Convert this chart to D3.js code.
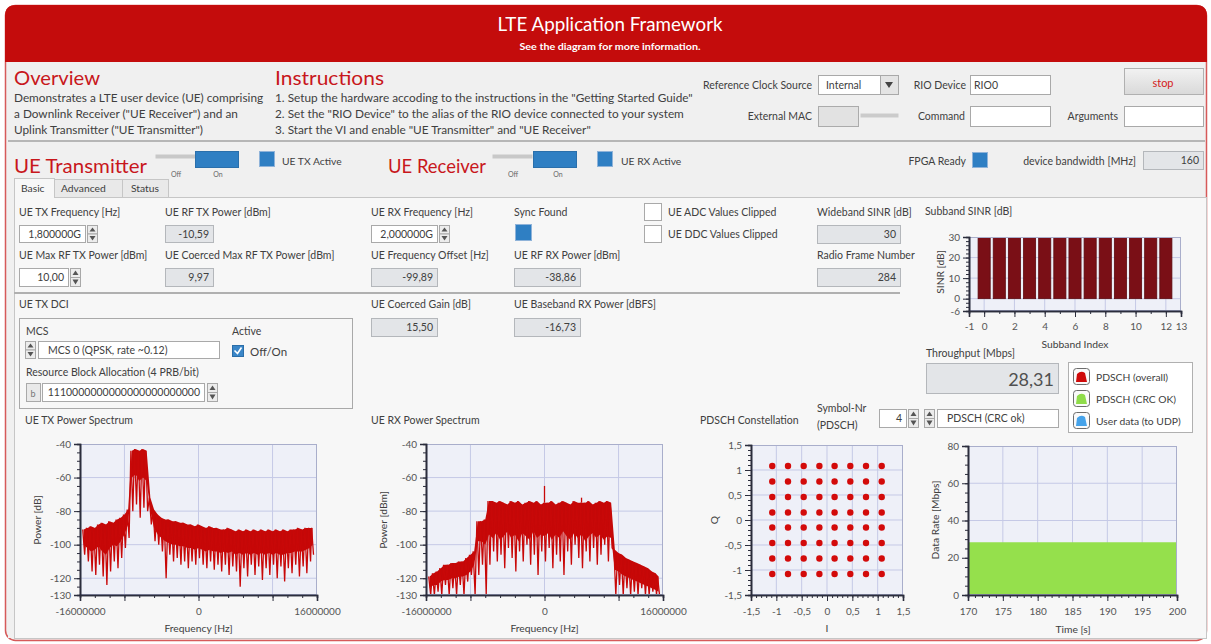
<!DOCTYPE html>
<html><head><meta charset="utf-8">
<script src="https://cdn.jsdelivr.net/npm/d3@7/dist/d3.min.js"></script>
<style>
body{margin:0;background:#fff;}
svg{display:block;font-family:Lato,"Open Sans",sans-serif;}
</style></head><body>
<svg id="c" width="1211" height="644"></svg>
<script>
// ---------------- DATA ----------------
const txFreqMHz = [-15.5,-15,-14.5,-14,-13.5,-13,-12.5,-12,-11.5,-11,-10.5,-10,-9.5,-9,-8.5,-8,-7.5,-7,-6.5,-6,-5.5,-5,-4.5,-4,-3.5,-3,-2.5,-2,-1.5,-1,-0.5,0,0.5,1,1.5,2,2.5,3,3.5,4,4.5,5,5.5,6,6.5,7,7.5,8,8.5,9,9.5,10,10.5,11,11.5,12,12.5,13,13.5,14,14.5,15,15.4];
const txPowerHi = [-91,-90,-89,-90,-88,-87,-88,-86,-87,-85,-84,-82,-79,-44,-43,-44,-43,-44,-72,-79,-82,-84,-85,-85,-86,-86,-87,-87,-88,-88,-89,-88,-89,-90,-89,-90,-90,-91,-91,-90,-91,-92,-91,-92,-91,-92,-91,-92,-91,-92,-91,-92,-91,-92,-91,-92,-91,-91,-90,-91,-90,-90,-90];
const txSolidLo = [-100,-102,-104,-103,-101,-104,-106,-102,-100,-101,-98,-94,-88,-60,-58,-62,-60,-62,-80,-90,-94,-96,-98,-99,-100,-100,-101,-101,-102,-102,-103,-102,-103,-104,-103,-104,-104,-105,-104,-105,-104,-106,-105,-106,-105,-106,-105,-106,-105,-106,-105,-106,-105,-106,-106,-105,-105,-104,-104,-104,-103,-102,-100];
const txPowerLo = [-106,-110,-116,-118,-112,-119,-124,-116,-110,-114,-108,-102,-96,-80,-76,-84,-78,-80,-88,-98,-100,-104,-120,-106,-110,-108,-112,-110,-114,-110,-112,-108,-112,-114,-110,-115,-112,-116,-112,-118,-113,-116,-125,-114,-119,-112,-118,-113,-121,-114,-118,-112,-120,-113,-122,-114,-117,-112,-119,-113,-117,-110,-106];

const rxFreqMHz = [-15.5,-15,-14.5,-14,-13.5,-13,-12.5,-12,-11.5,-11,-10.5,-10,-9.5,-9,-8.5,-8,-7.5,-7,-6.5,-6,-5.5,-5,-4.5,-4,-3.5,-3,-2.5,-2,-1.5,-1,-0.5,0,0.5,1,1.5,2,2.5,3,3.5,4,4.5,5,5.5,6,6.5,7,7.5,8,8.5,9,9.5,10,10.5,11,11.5,12,12.5,13,13.5,14,14.5,15,15.4];
const rxPowerHi = [-119,-117,-116,-114,-112,-112,-111,-111,-110,-110,-108,-106,-104,-86,-86,-85,-74,-74,-75,-74,-75,-76,-74,-75,-74,-76,-75,-74,-75,-74,-76,-75,-75,-74,-76,-75,-74,-75,-76,-74,-75,-75,-75,-74,-76,-75,-74,-75,-74,-75,-103,-105,-106,-108,-109,-110,-111,-112,-113,-114,-116,-117,-119];
const rxSolidLo = [-126,-124,-124,-122,-121,-121,-120,-120,-119,-119,-118,-116,-112,-98,-98,-100,-94,-96,-93,-97,-95,-92,-96,-94,-98,-93,-95,-97,-92,-96,-94,-95,-93,-97,-94,-96,-92,-95,-97,-93,-96,-94,-98,-95,-93,-96,-94,-97,-95,-96,-115,-116,-118,-119,-120,-121,-122,-123,-124,-125,-126,-127,-128];
const rxPowerLo = [-130,-130,-128,-130,-124,-130,-126,-130,-124,-130,-122,-118,-130,-118,-112,-130,-112,-104,-110,-106,-114,-102,-108,-116,-104,-110,-100,-112,-106,-118,-104,-110,-102,-114,-106,-110,-118,-104,-112,-100,-108,-114,-104,-110,-102,-112,-106,-100,-110,-102,-130,-124,-130,-126,-130,-128,-130,-126,-130,-130,-128,-130,-130];
const rxSpikeFreqMHz = [0.0, 5.0];
const rxSpikeTopDb = [-65, -72];

const subbandIndex = [0,1,2,3,4,5,6,7,8,9,10,11,12];
const subbandSinrDb = [30,30,30,30,30,30,30,30,30,30,30,30,30];

const constLevelsI = [-1.08,-0.77,-0.46,-0.15,0.15,0.46,0.77,1.08];
const constLevelsQ = [1.08,0.77,0.46,0.15,-0.15,-0.46,-0.77,-1.08];

const rateTimeS = [170,175,180,185,190,195,200];
const rateCrcOkMbps = [28.3,28.3,28.3,28.3,28.3,28.3,28.3];

const specXLabels = [-16000000,0,16000000];
const specXMajor = [-16000000,-10000000,0,10000000,16000000];
const specYLabels = [-40,-60,-80,-100,-120,-130];
const sinrYLabels = [30,20,10,0,-6];
const sinrXLabels = [-1,0,2,4,6,8,10,12,13];
const constLabels = [-1.5,-1,-0.5,0,0.5,1,1.5];
const rateYLabels = [0,20,40,60,80];
const rateXLabels = [170,175,180,185,190,195,200];

// ---------------- HELPERS ----------------
const svg = d3.select('#c');
const defs = svg.append('defs');
const fmt = d => String(d).replace('.', ',');
function T(x,y,s,o={}){
  const t = svg.append('text').attr('x',x).attr('y',y).attr('dominant-baseline','central')
    .attr('font-size',o.size||10.5).attr('fill',o.fill||'#404040').attr('text-anchor',o.anchor||'start')
    .attr('font-weight',o.weight||null).text(s);
  if(o.len) t.attr('textLength',o.len).attr('lengthAdjust','spacingAndGlyphs');
  return t;
}
function R(x,y,w,h,fill,stroke,sw){
  return svg.append('rect').attr('x',x+0.5).attr('y',y+0.5).attr('width',w).attr('height',h)
    .attr('fill',fill).attr('stroke',stroke||'none').attr('stroke-width',sw||1);
}
function L(x1,y1,x2,y2,c,w){ return svg.append('line').attr('x1',x1).attr('y1',y1).attr('x2',x2).attr('y2',y2).attr('stroke',c).attr('stroke-width',w||1); }
function spinner(x,y,h){
  const hh=h/2;
  R(x,y,10,hh,'#ececec','#a8a8a8'); R(x,y+hh,10,hh,'#ececec','#a8a8a8');
  svg.append('path').attr('d',`M${x+2.5},${y+hh-2}L${x+5.5},${y+2.5}L${x+8.5},${y+hh-2}Z`).attr('fill','#555');
  svg.append('path').attr('d',`M${x+2.5},${y+hh+2.5}L${x+5.5},${y+h-1.5}L${x+8.5},${y+hh+2.5}Z`).attr('fill','#555');
}
function ind(x,y,w,h,v){ R(x,y,w,h,'#e3e5e8','#b4b7bb'); T(x+w-4,y+h/2,v,{anchor:'end'}); }
function ctl(x,y,w,h,v,left){ R(x,y,w,h,'#fff','#a9a9a9'); if(v) T(left?x+4:x+w-4,y+h/2,v,{anchor:left?'start':'end'}); }
function led(x,y,s){ R(x,y,s,s,'#2f7fc3','#8fb3d9'); }
function chk(x,y,s){ R(x,y,s,s,'#fff','#a9a9a9'); }

// ---------------- FRAME ----------------
svg.append('rect').attr('x',5.5).attr('y',5.5).attr('width',1201).attr('height',635).attr('rx',10)
  .attr('fill','#f0f0f0').attr('stroke','#d65a5a').attr('stroke-width',1.5);
svg.append('path').attr('d','M5,62 L5,16 Q5,5 16,5 L1196,5 Q1207,5 1207,16 L1207,62 Z').attr('fill','#c40c0c');
svg.append('rect').attr('x',8).attr('y',62).attr('width',1196).attr('height',576).attr('fill','#f0f0f0');
T(610,24,'LTE Application Framework',{size:18.5,fill:'#fff',anchor:'middle',len:225});
T(610,46,'See the diagram for more information.',{size:10,fill:'#fff',anchor:'middle',weight:'bold',len:181});

// ---------------- TOP ----------------
T(14,77,'Overview',{size:20,fill:'#c8171c',len:86});
T(14,97,'Demonstrates a LTE user device (UE) comprising',{size:11.8});
T(14,113,'a Downlink Receiver ("UE Receiver") and an',{size:11.8});
T(14,129,'Uplink Transmitter ("UE Transmitter")',{size:11.8});
T(275,77,'Instructions',{size:20,fill:'#c8171c',len:109});
T(275,97,'1. Setup the hardware accoding to the instructions in the "Getting Started Guide"',{size:11.8});
T(275,113,'2. Set the "RIO Device" to the alias of the RIO device connected to your system',{size:11.8});
T(275,129,'3. Start the VI and enable "UE Transmitter" and "UE Receiver"',{size:11.8});

T(812,85,'Reference Clock Source',{anchor:'end'});
R(818,75,62,19,'#fff','#a9a9a9'); T(826,85,'Internal');
R(880,75,18,19,'#e4e4e4','#a9a9a9');
svg.append('path').attr('d','M885,82L893,82L889,88Z').attr('fill','#444');
T(966,85,'RIO Device',{anchor:'end'});
ctl(970,75,80,19,'RIO0',true);
defs.html('<linearGradient id="stopg" x1="0" y1="0" x2="0" y2="1"><stop offset="0" stop-color="#f2f2f2"/><stop offset="1" stop-color="#d9d9d9"/></linearGradient>');
R(1124,68,79,26,'url(#stopg)','#b0b0b0');
T(1163,82,'stop',{fill:'#d42020',anchor:'middle',size:11});
T(812,116,'External MAC',{anchor:'end'});
R(818,106,40,20,'#e2e2e2','#ababab');
R(860,113,38,4,'#cbcbcb','none');
T(965,116,'Command',{anchor:'end'});
ctl(970,106,80,20,'',true);
T(1118,116,'Arguments',{anchor:'end'});
ctl(1124,106,79,20,'',true);
L(8,141,1205,141,'#b6b6b6',2);

// ---------------- TX / RX header row ----------------
T(14,165,'UE Transmitter',{size:20,fill:'#c8171c',len:133});
R(155,154,40,4,'#c8c8c8'); R(195,151,43,16,'#2f7fc3','#2a6fab');
T(176,174,'Off',{size:7,anchor:'middle',fill:'#666'}); T(218,174,'On',{size:7,anchor:'middle',fill:'#666'});
led(259,151,15); T(282,161,'UE TX Active',{size:10.3});
T(388,165,'UE Receiver',{size:20,fill:'#c8171c',len:98});
R(492,154,40,4,'#c8c8c8'); R(533,151,43,16,'#2f7fc3','#2a6fab');
T(513,174,'Off',{size:7,anchor:'middle',fill:'#666'}); T(558,174,'On',{size:7,anchor:'middle',fill:'#666'});
led(597,151,15); T(621,161,'UE RX Active',{size:10.3});
T(966,161,'FPGA Ready',{anchor:'end'}); led(972,152,15);
T(1136,161,'device bandwidth [MHz]',{anchor:'end'});
ind(1143,151,60,18,'160');

// tabs
R(14,197,1192,441,'#f7f7f7','#c6c6c6');
R(14,178,40,19,'#f7f7f7','#c6c6c6'); L(15,197.5,54,197.5,'#f7f7f7',1.5);
R(54,179,68,18,'#e9e9e9','#c6c6c6'); R(122,179,46,18,'#e9e9e9','#c6c6c6');
T(21,188,'Basic',{size:10.3}); T(61,188,'Advanced',{size:10.3}); T(131,188,'Status',{size:10.3});

// ---------------- controls ----------------
T(19,212,'UE TX Frequency [Hz]'); ctl(19,225,66,17,'1,800000G'); spinner(87,225,17);
T(165,212,'UE RF TX Power [dBm]'); ind(165,225,48,17,'-10,59');
T(371,212,'UE RX Frequency [Hz]'); ctl(371,225,66,17,'2,000000G'); spinner(439,225,17);
T(514,212,'Sync Found'); led(515,224,16);
chk(644,203,17); T(668,212,'UE ADC Values Clipped');
chk(644,225,17); T(668,234,'UE DDC Values Clipped');
T(817,212,'Wideband SINR [dB]'); ind(817,225,83,18,'30');
T(19,255,'UE Max RF TX Power [dBm]'); ctl(19,268,49,18,'10,00'); spinner(70,268,18);
T(165,255,'UE Coerced Max RF TX Power [dBm]'); ind(165,268,48,18,'9,97');
T(371,255,'UE Frequency Offset [Hz]'); ind(371,268,66,18,'-99,89');
T(514,255,'UE RF RX Power [dBm]'); ind(514,268,66,18,'-38,86');
T(817,255,'Radio Frame Number'); ind(817,268,83,18,'284');
L(14,293,900,293,'#b0b0b0',2);

T(19,304,'UE TX DCI');
R(19,318,333,90,'#f7f7f7','#a9a9a9');
T(26,331,'MCS'); T(232,331,'Active');
spinner(25,341,17); ctl(38,341,181,17,'',true); T(48,350,'MCS 0 (QPSK, rate ~0.12)');
R(232,345,11,11,'#3a86c8','#2b6ea8');
svg.append('path').attr('d','M234.5,350.5L237.5,353.5L241.5,347.5').attr('fill','none').attr('stroke','#fff').attr('stroke-width',1.6);
T(250,351,'Off/On',{size:11.5});
T(26,372,'Resource Block Allocation (4 PRB/bit)');
R(26,383,14,18,'#e9e9e9','#a9a9a9'); T(33,393,'b',{size:9,anchor:'middle',fill:'#777'});
ctl(42,383,162,18,'1110000000000000000000000'); spinner(207,383,18);
T(371,304,'UE Coerced Gain [dB]'); ind(371,318,66,18,'15,50');
T(514,304,'UE Baseband RX Power [dBFS]'); ind(514,318,66,18,'-16,73');

// throughput + legend
T(926,353,'Throughput [Mbps]');
R(926,363,132,30,'#e3e5e8','#b4b7bb'); T(1054,379,'28,31',{size:18,anchor:'end',fill:'#505050'});
R(1068,362,124,70,'#fff','#b0b0b0');
const legItems=[['PDSCH (overall)','#cf0a0a'],['PDSCH (CRC OK)','#8fdc4a'],['User data (to UDP)','#46a3ea']];
legItems.forEach((d,i)=>{
  const x=1073,y=368+i*22;
  svg.append('rect').attr('x',x+0.5).attr('y',y+0.5).attr('width',16).attr('height',16).attr('rx',3).attr('fill','#fafafa').attr('stroke','#6d6d6d');
  svg.append('path').attr('d',`M${x+3},${y+14}L${x+4},${y+6}Q${x+8},${y+2} ${x+12},${y+5}L${x+14},${y+14}Z`).attr('fill',d[1]);
  T(1096,y+9,d[0],{size:10.3});
});
T(700,420,'PDSCH Constellation');
T(817,408,'Symbol-Nr'); T(817,425,'(PDSCH)');
ctl(879,409,27,18,'4'); spinner(908,409,18);
spinner(924,409,18); ctl(937,409,121,18,'',true); T(947,418,'PDSCH (CRC ok)');

T(25,420,'UE TX Power Spectrum'); T(371,420,'UE RX Power Spectrum');
T(925,211,'Subband SINR [dB]');

// ---------------- CHART HELPERS ----------------
function plotArea(o){
  const g=svg.append('g');
  const x=d3.scaleLinear().domain(o.xd).range([o.L,o.R]);
  const y=d3.scaleLinear().domain(o.yd).range([o.B,o.T]);
  g.append('rect').attr('x',o.L).attr('y',o.T).attr('width',o.R-o.L).attr('height',o.B-o.T).attr('fill','#eef0f8');
  (o.gx||[]).forEach(v=>g.append('line').attr('x1',x(v)).attr('x2',x(v)).attr('y1',o.T).attr('y2',o.B).attr('stroke','#c5c9e6').attr('stroke-width',1));
  (o.gy||[]).forEach(v=>g.append('line').attr('y1',y(v)).attr('y2',y(v)).attr('x1',o.L).attr('x2',o.R).attr('stroke','#c5c9e6').attr('stroke-width',1));
  const cid='clip'+Math.round(o.L);
  defs.append('clipPath').attr('id',cid).append('rect').attr('x',o.L).attr('y',o.T).attr('width',o.R-o.L).attr('height',o.B-o.T);
  const data=svg.append('g').attr('clip-path',`url(#${cid})`);
  return {x,y,data,o};
}
function styleAxis(g){
  g.attr('font-family',null).attr('font-size',null);
  g.selectAll('.domain').attr('stroke','#2b2d3c').attr('stroke-width',1.6);
  g.selectAll('.tick line').attr('stroke','#2b2d3c');
  g.selectAll('.tick text').attr('fill','#555').attr('font-size',10);
}
function axes(P, a){
  const {x,y,o}=P;
  const xPad = a.xPad||3;
  svg.append('rect').attr('x',o.L+0.5).attr('y',o.T+0.5).attr('width',o.R-o.L-1).attr('height',o.B-o.T-1).attr('fill','none').attr('stroke','#a9aecb');
  const g1=svg.append('g').attr('transform',`translate(${o.L},0)`).call(d3.axisLeft(y).tickValues(a.yMinor).tickSize(3).tickFormat(''));
  styleAxis(g1);
  const g2=svg.append('g').attr('transform',`translate(${o.L},0)`).call(d3.axisLeft(y).tickValues(a.yMajor).tickSize(6).tickPadding(3).tickFormat(d=>a.yLab.includes(d)?fmt(d):''));
  styleAxis(g2);
  const g3=svg.append('g').attr('transform',`translate(0,${o.B})`).call(d3.axisBottom(x).tickValues(a.xMinor).tickSize(3).tickFormat(''));
  styleAxis(g3);
  const g4=svg.append('g').attr('transform',`translate(0,${o.B})`).call(d3.axisBottom(x).tickValues(a.xMajor).tickSize(6).tickPadding(xPad).tickFormat(d=>a.xLab.includes(d)?fmt(d):''));
  styleAxis(g4);
  if(a.yTitle) svg.append('text').attr('transform',`translate(${a.yTitle[1]},${a.yTitle[2]}) rotate(-90)`).attr('text-anchor','middle').attr('dominant-baseline','central').attr('font-size',10.3).attr('fill','#404040').text(a.yTitle[0]);
  if(a.xTitle) T(a.xTitle[1],a.xTitle[2],a.xTitle[0],{anchor:'middle',size:10.3});
}
const range=(a,b,s)=>d3.range(a,b+s/2,s).map(v=>+v.toFixed(6));

// ---------------- SUBBAND SINR ----------------
{
  const P=plotArea({L:969,R:1181,T:237,B:311,xd:[-1,13],yd:[-6,30],gx:[0,2,4,6,8,10,12],gy:[0,10,20]});
  P.data.selectAll('rect.bar').data(subbandIndex).join('rect')
    .attr('x',d=>P.x(d-0.4)).attr('width',P.x(0.8)-P.x(0))
    .attr('y',(d,i)=>P.y(subbandSinrDb[i])).attr('height',(d,i)=>P.y(0)-P.y(subbandSinrDb[i]))
    .attr('fill','#7a0f16').attr('stroke','#5c0a10').attr('stroke-width',0.8);
  axes(P,{yMajor:sinrYLabels,yLab:sinrYLabels,yMinor:range(-6,30,2),xMajor:sinrXLabels,xLab:sinrXLabels,xMinor:range(-1,13,1),
    yTitle:['SINR [dB]',940,272],xTitle:['Subband Index',1075,344],xPad:6});
}

// ---------------- SPECTRA ----------------
function spectrum(L,R,freq,hi,solid,lo,ytitle,yx,spF,spT){
  const P=plotArea({L:L,R:R,T:444,B:595,xd:[-16000000,16000000],yd:[-130,-40],gx:[-10000000,0,10000000],gy:[-60,-80,-100,-120]});
  const band=freq.map((f,i)=>[f*1e6,hi[i],solid[i]]);
  P.data.append('path').attr('d',d3.area().x(d=>P.x(d[0])).y0(d=>P.y(d[2])).y1(d=>P.y(d[1]))(band)).attr('fill','#c40808');
  const pts=[];
  freq.forEach((f,i)=>{pts.push([P.x(f*1e6-130000),P.y(hi[i])]);pts.push([P.x(f*1e6+130000),P.y(lo[i])]);});
  P.data.append('path').attr('d',d3.line()(pts)).attr('fill','none').attr('stroke','#c80808').attr('stroke-width',1.3);
  (spF||[]).forEach((f,i)=>{
    const j=d3.leastIndex(freq,g=>Math.abs(g-f));
    P.data.append('line').attr('x1',P.x(f*1e6)).attr('x2',P.x(f*1e6)).attr('y1',P.y(spT[i])).attr('y2',P.y(hi[j])).attr('stroke','#c80808').attr('stroke-width',1.3);
  });
  axes(P,{yMajor:specYLabels,yLab:specYLabels,yMinor:range(-130,-40,5),xMajor:specXMajor,xLab:specXLabels,xMinor:range(-16000000,16000000,2000000),
    yTitle:[ytitle,yx,520],xTitle:['Frequency [Hz]',(L+R)/2,628],xPad:7});
}
spectrum(80,317,txFreqMHz,txPowerHi,txSolidLo,txPowerLo,'Power [dB]',37);
spectrum(426,663,rxFreqMHz,rxPowerHi,rxSolidLo,rxPowerLo,'Power [dBm]',383,rxSpikeFreqMHz,rxSpikeTopDb);

// ---------------- CONSTELLATION ----------------
{
  const P=plotArea({L:751,R:903,T:445,B:595,xd:[-1.5,1.5],yd:[-1.5,1.5],gx:[-1,-0.5,0,0.5,1],gy:[-1,-0.5,0,0.5,1]});
  const pts=[]; constLevelsQ.forEach(q=>constLevelsI.forEach(i=>pts.push([i,q])));
  P.data.selectAll('circle').data(pts).join('circle').attr('cx',d=>P.x(d[0])).attr('cy',d=>P.y(d[1])).attr('r',3.2).attr('fill','#d30a0a');
  axes(P,{yMajor:constLabels,yLab:constLabels,yMinor:range(-1.5,1.5,0.1),xMajor:constLabels,xLab:constLabels,xMinor:range(-1.5,1.5,0.1),
    yTitle:['Q',714,520],xTitle:['I',827,628],xPad:7});
}

// ---------------- DATA RATE ----------------
{
  const P=plotArea({L:968,R:1177,T:446,B:595,xd:[170,200],yd:[0,80],gx:[175,180,185,190,195],gy:[20,40,60]});
  P.data.append('path').datum(rateTimeS.map((t,i)=>[t,rateCrcOkMbps[i]]))
    .attr('d',d3.area().x(d=>P.x(d[0])).y0(P.y(0)).y1(d=>P.y(d[1]))).attr('fill','#95e04c');
  axes(P,{yMajor:rateYLabels,yLab:rateYLabels,yMinor:range(0,80,5),xMajor:rateXLabels,xLab:rateXLabels,xMinor:range(170,200,1),
    yTitle:['Data Rate [Mbps]',935,520],xTitle:['Time [s]',1073,629],xPad:7});
}
</script>
</body></html>
